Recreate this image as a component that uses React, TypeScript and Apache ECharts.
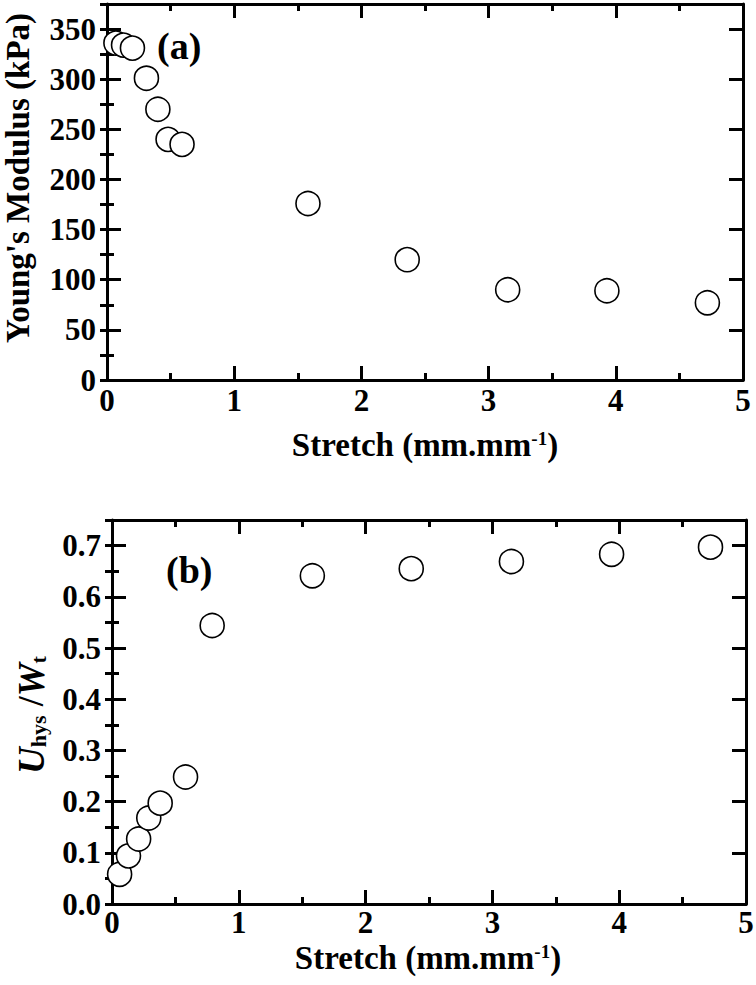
import React, { useEffect, useRef } from "react";
import * as echarts from "echarts";

const stretchA = [0.07, 0.13, 0.2, 0.31, 0.4, 0.48, 0.59, 1.58, 2.36, 3.15, 3.93, 4.72];
const modulusA = [336, 334, 331, 301, 270, 240, 235, 176, 120, 90, 89, 77];

const stretchB = [0.06, 0.13, 0.21, 0.29, 0.38, 0.58, 0.79, 1.58, 2.36, 3.15, 3.94, 4.72];
const ratioB = [0.058, 0.094, 0.127, 0.168, 0.197, 0.248, 0.544, 0.641, 0.655, 0.669, 0.683, 0.697];

const xTicks = [0, 1, 2, 3, 4, 5];
const yTicksA = [0, 50, 100, 150, 200, 250, 300, 350];
const yTicksB = [0, 0.1, 0.2, 0.3, 0.4, 0.5, 0.6, 0.7];

const FONT = "'Liberation Serif', 'Times New Roman', serif";
const BLACK = "#000";

const RICH = {
  b: { fontFamily: FONT, fontWeight: "bold", fontSize: 33, fill: BLACK },
  b36: { fontFamily: FONT, fontWeight: "bold", fontSize: 36, fill: BLACK },
  i: { fontFamily: FONT, fontWeight: "bold", fontStyle: "italic", fontSize: 37, fill: BLACK },
  sup: { fontFamily: FONT, fontWeight: "bold", fontSize: 19, fill: BLACK, verticalAlign: "top" },
  sub: { fontFamily: FONT, fontWeight: "bold", fontSize: 22, fill: BLACK, verticalAlign: "bottom" },
};

function xAxes(grid: number) {
  const common = {
    type: "value" as const,
    gridIndex: grid,
    min: xTicks[0],
    max: xTicks[xTicks.length - 1],
    interval: 1,
    splitLine: { show: false },
    axisLine: { show: true, onZero: false, lineStyle: { color: BLACK, width: 3 } },
    axisTick: { show: true, inside: true, length: 14, lineStyle: { color: BLACK, width: 3 } },
    minorTick: { show: true, splitNumber: 2, length: 7, lineStyle: { color: BLACK, width: 3 } },
  };
  return [
    {
      ...common,
      position: "bottom",
      axisLabel: {
        show: true,
        margin: grid === 0 ? 5 : 3,
        color: BLACK,
        fontFamily: FONT,
        fontWeight: "bold",
        fontSize: 31,
      },
    },
    { ...common, position: "top", axisLabel: { show: false } },
  ];
}

function yAxes(grid: number, max: number, major: number, minor: number, isA: boolean) {
  const base = {
    type: "value" as const,
    gridIndex: grid,
    min: 0,
    max,
    splitLine: { show: false },
  };
  const line = { show: true, onZero: false, lineStyle: { color: BLACK, width: 3 } };
  return [
    {
      ...base,
      position: "left",
      interval: major,
      axisLine: line,
      axisTick: { show: true, inside: true, length: 14, lineStyle: { color: BLACK, width: 3 } },
      axisLabel: {
        show: true,
        margin: 11,
        color: BLACK,
        fontFamily: FONT,
        fontWeight: "bold",
        fontSize: 31,
        showMaxLabel: false,
        formatter: (v: number) => (isA ? String(v) : v.toFixed(1)),
      },
    },
    {
      ...base,
      position: "left",
      interval: minor,
      axisLine: { show: false },
      axisTick: { show: true, inside: true, length: 7, lineStyle: { color: BLACK, width: 3 } },
      axisLabel: { show: false },
    },
    {
      ...base,
      position: "right",
      interval: major,
      axisLine: line,
      axisTick: { show: true, inside: true, length: 14, lineStyle: { color: BLACK, width: 3 } },
      axisLabel: { show: false },
    },
    {
      ...base,
      position: "right",
      interval: minor,
      axisLine: { show: false },
      axisTick: { show: true, inside: true, length: 7, lineStyle: { color: BLACK, width: 3 } },
      axisLabel: { show: false },
    },
  ];
}

function title(text: string, x: number, y: number, vertical: boolean) {
  return {
    type: "text",
    x,
    y,
    rotation: vertical ? Math.PI / 2 : 0,
    style: { text, rich: RICH, align: "center", verticalAlign: "middle", fill: BLACK },
  };
}

export default function App() {
  const ref = useRef<HTMLDivElement>(null);
  useEffect(() => {
    if (!ref.current) return;
    const chart = echarts.init(ref.current, null, { renderer: "svg" });
    const marker = {
      symbol: "circle",
      symbolSize: 24,
      itemStyle: { color: "#fff", borderColor: BLACK, borderWidth: 1.6, opacity: 1 },
    };
    chart.setOption({
      animation: false,
      backgroundColor: "#fff",
      grid: [
        { left: 107, top: 4, width: 636, height: 376, containLabel: false, outerBoundsMode: "none" },
        { left: 112, top: 520, width: 634, height: 384, containLabel: false, outerBoundsMode: "none" },
      ],
      xAxis: [...xAxes(0), ...xAxes(1)],
      yAxis: [...yAxes(0, 375, 50, 25, true), ...yAxes(1, 0.75, 0.1, 0.05, false)],
      series: [
        {
          type: "scatter",
          xAxisIndex: 0,
          yAxisIndex: 0,
          data: stretchA.map((x, i) => [x, modulusA[i]]),
          ...marker,
        },
        {
          type: "scatter",
          xAxisIndex: 2,
          yAxisIndex: 4,
          data: stretchB.map((x, i) => [x, ratioB[i]]),
          ...marker,
        },
      ],
      graphic: [
        {
          type: "text",
          left: 157,
          top: 27,
          style: { text: "(a)", fontFamily: FONT, fontWeight: "bold", fontSize: 38, fill: BLACK },
        },
        {
          type: "text",
          left: 166,
          top: 551,
          style: { text: "(b)", fontFamily: FONT, fontWeight: "bold", fontSize: 38, fill: BLACK },
        },
        title("{b|Stretch (mm.mm}{sup|-1}{b|)}", 425, 445, false),
        title("{b|Stretch (mm.mm}{sup|-1}{b|)}", 428, 958, false),
        title("{b|Young's Modulus (kPa)}", 18, 178, true),
        title("{i|U}{sub|hys}{b36| /}{i|W}{sub|t}", 31, 715, true),
      ],
    });
    return () => chart.dispose();
  }, []);
  return (
    <div
      ref={ref}
      style={{ position: "absolute", left: 0, top: 0, width: 756, height: 985, background: "#fff" }}
    />
  );
}
